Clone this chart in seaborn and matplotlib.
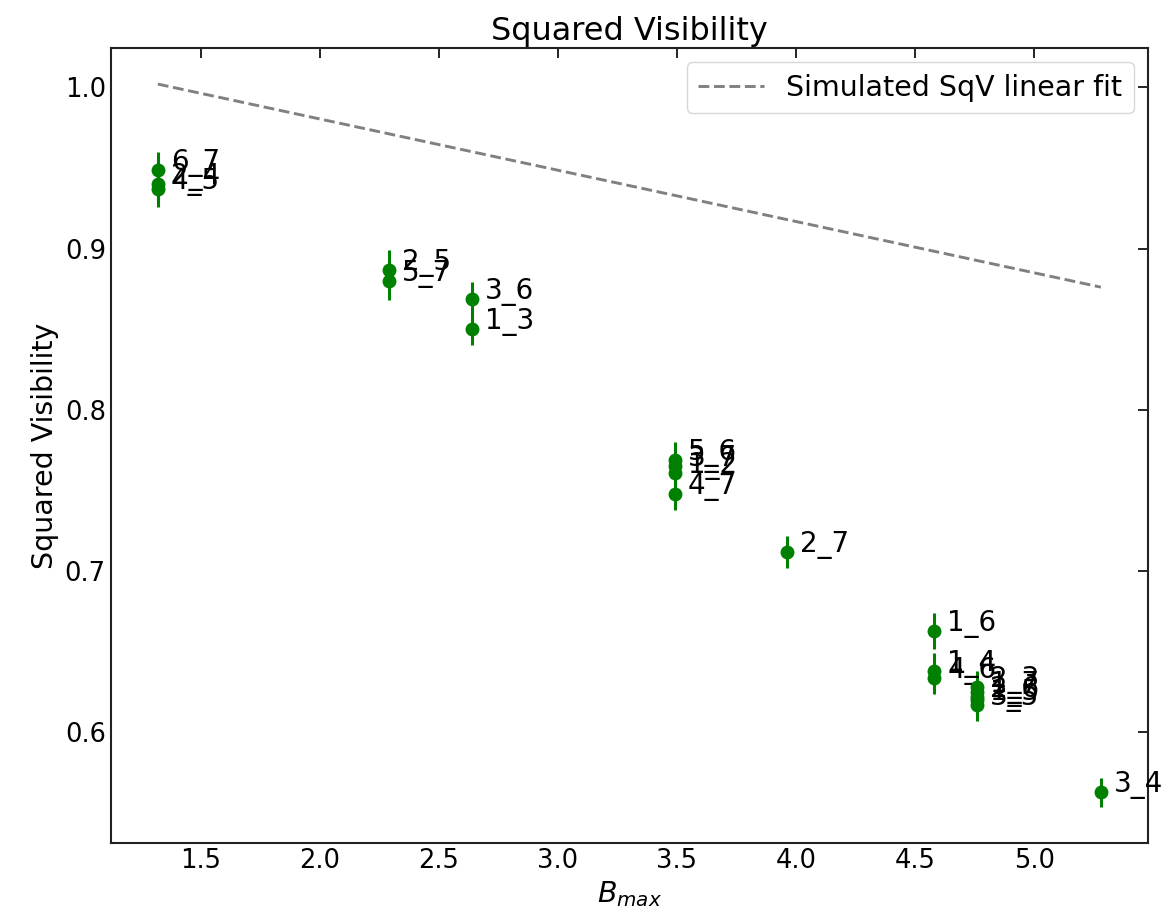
import numpy as np
import pandas as pd
import matplotlib
matplotlib.use("Agg")
import matplotlib.pyplot as plt
import seaborn as sns

# Baseline names, maximum baseline length and measured squared visibilities
baselines = ["6_7", "2_4", "4_5", "2_5", "5_7", "3_6", "1_3",
             "5_6", "3_7", "1_2", "4_7", "2_7", "1_6", "1_4", "4_6",
             "2_3", "1_7", "2_6", "1_5", "3_5", "3_4"]
b_max = [1.32, 1.32, 1.32, 2.29, 2.29, 2.64, 2.64,
         3.49, 3.49, 3.49, 3.49, 3.96, 4.58, 4.58, 4.58,
         4.76, 4.76, 4.76, 4.76, 4.76, 5.28]
sqv = [0.949, 0.940, 0.937, 0.887, 0.880, 0.869, 0.850,
       0.769, 0.765, 0.761, 0.748, 0.712, 0.663, 0.638, 0.634,
       0.628, 0.625, 0.622, 0.620, 0.617, 0.563]
sqv_err = [0.011, 0.011, 0.011, 0.012, 0.012, 0.010, 0.010,
           0.011, 0.011, 0.011, 0.010, 0.010, 0.011, 0.011, 0.010,
           0.010, 0.010, 0.010, 0.010, 0.010, 0.009]

# Linear fit to the simulated squared visibility
fit_intercept = 1.044
fit_slope = -0.0318

df = pd.DataFrame({"baseline": baselines, "B": b_max, "V2": sqv, "err": sqv_err})
fit_x = np.array([min(b_max), max(b_max)])
fit_df = pd.DataFrame({"B": fit_x, "V2": fit_intercept + fit_slope * fit_x})

sns.set_theme(style="white")
plt.rcParams["font.family"] = ["DejaVu Sans"]
plt.rcParams["text.color"] = "black"
plt.rcParams["axes.labelcolor"] = "black"

fig = plt.figure(figsize=(11.63, 9.17), dpi=100)
ax = fig.add_axes([0.0952, 0.081, 0.8919, 0.8667])

sns.lineplot(data=fit_df, x="B", y="V2", ax=ax, color="#808080", linestyle="--",
             linewidth=2.1, label="Simulated SqV linear fit")

ax.errorbar(df["B"], df["V2"], yerr=df["err"], fmt="o", color="green",
            markersize=9, elinewidth=2.2, capsize=0, zorder=3)

for name, x, y in zip(df["baseline"], df["B"], df["V2"]):
    ax.text(x + 0.055, y, name, fontsize=20, color="black")

ax.set_title("Squared Visibility", fontsize=23, color="black")
ax.set_xlabel(r"$B_{max}$", fontsize=20.5, color="black")
ax.set_ylabel("Squared Visibility", fontsize=20.5, color="black")
ax.tick_params(direction="in", top=True, right=True, labelsize=18.5,
               length=7, width=1.2, colors="black")
for s in ax.spines.values():
    s.set_color("#222222")
    s.set_linewidth(1.5)

ax.legend(loc="upper right", fontsize=20.5, frameon=True, fancybox=True,
          handlelength=2.3, edgecolor="#cccccc", labelcolor="black")

fig.savefig("out.png", dpi=100)
